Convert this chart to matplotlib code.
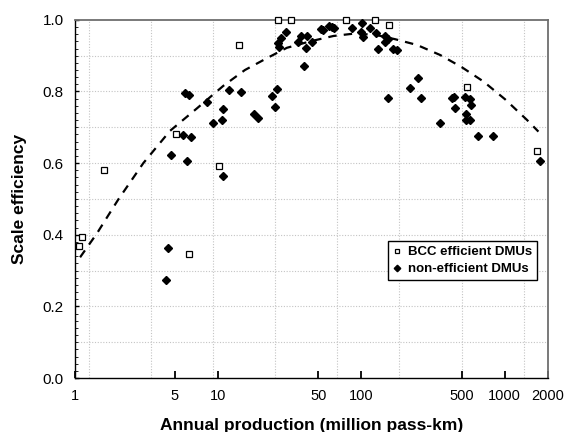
import numpy as np
import matplotlib
matplotlib.use('Agg')
import matplotlib.pyplot as plt
from matplotlib.ticker import FixedLocator, NullFormatter

plt.rcParams['font.family'] = ['Liberation Sans', 'DejaVu Sans']

# BCC efficient DMUs (open squares)
bcc_x = [1.078, 1.129, 1.597, 5.12, 6.32, 10.2, 14.1, 26.1, 32.2, 77.8, 124.6, 157, 549, 1690]
bcc_y = [0.368, 0.394, 0.581, 0.681, 0.347, 0.592, 0.929, 1.0, 1.0, 1.0, 1.0, 0.987, 0.812, 0.633]

# non-efficient DMUs (filled diamonds)
ne_x = [4.34, 4.49, 4.68, 5.73, 5.91, 6.08, 6.25, 6.45, 8.38, 9.28,
        10.7, 10.9, 10.9, 11.9, 14.5, 17.8, 18.9, 23.9, 25.0, 25.8,
        26.4, 26.6, 27.5, 29.7, 36.0, 37.8, 39.6, 41.1, 42.0, 45.1,
        52.1, 53.8, 59.8, 62.1, 64.2, 85.7, 99.0, 101.6, 103.2, 115.0,
        126.0, 131.4, 146.0, 152.9, 146.0, 153.6, 167.0, 178.0, 220, 250,
        262, 356, 430, 446, 449, 527, 573, 580, 535, 533,
        576, 652, 826, 1761]
ne_y = [0.273, 0.362, 0.623, 0.679, 0.797, 0.606, 0.790, 0.673, 0.770, 0.713,
        0.721, 0.751, 0.564, 0.805, 0.799, 0.737, 0.726, 0.787, 0.756, 0.807,
        0.935, 0.923, 0.950, 0.965, 0.938, 0.956, 0.872, 0.921, 0.956, 0.939,
        0.975, 0.972, 0.984, 0.979, 0.976, 0.976, 0.965, 0.991, 0.953, 0.976,
        0.963, 0.918, 0.955, 0.946, 0.939, 0.781, 0.918, 0.915, 0.809, 0.837,
        0.783, 0.713, 0.783, 0.786, 0.753, 0.786, 0.778, 0.761, 0.737, 0.721,
        0.721, 0.676, 0.676, 0.607]

# dashed trend curve
curve_x = [1.09, 1.43, 2.01, 3.01, 4.62, 7.08, 10.9, 15.4, 21.9, 30.2, 43.9,
           63.8, 90.4, 126, 172, 244, 354, 501, 710, 1007, 1426, 1718]
curve_y = [0.337, 0.404, 0.498, 0.600, 0.690, 0.752, 0.816, 0.860, 0.893, 0.922, 0.940,
           0.955, 0.962, 0.958, 0.946, 0.930, 0.902, 0.868, 0.828, 0.778, 0.721, 0.688]

x_ticks = [1, 5, 10, 50, 100, 500, 1000, 2000]
x_grid = [1.258, 3.41, 9.25, 25.1, 67.9, 184, 505, 1365]

fig = plt.figure(figsize=(5.66, 4.32), dpi=100)
ax = fig.add_axes([0.132, 0.125, 0.836, 0.829])

ax.set_xscale('log')
ax.set_xlim(1, 2000)
ax.set_ylim(0, 1.0)

# grid
for gx in x_grid:
    ax.axvline(gx, color='#c4c4c4', lw=0.8, ls=(0, (1, 1.5)), zorder=0)
for gy in np.arange(0.1, 1.0, 0.1):
    ax.axhline(gy, color='#c4c4c4', lw=0.8, ls=(0, (1, 1.5)), zorder=0)

ax.plot(curve_x, curve_y, color='black', lw=1.6, ls=(0, (3.8, 3.2)), zorder=2)

ax.plot(bcc_x, bcc_y, ls='none', marker='s', ms=4.5, mfc='white', mec='black',
        mew=0.9, clip_on=False, zorder=4, label='BCC efficient DMUs')
ax.plot(ne_x, ne_y, ls='none', marker='D', ms=4.4, mfc='black', mec='black',
        clip_on=False, zorder=3, label='non-efficient DMUs')

ax.xaxis.set_major_locator(FixedLocator(x_ticks))
ax.set_xticklabels([str(t) for t in x_ticks])
ax.xaxis.set_minor_locator(FixedLocator([]))
ax.xaxis.set_minor_formatter(NullFormatter())
ax.set_yticks([0.0, 0.2, 0.4, 0.6, 0.8, 1.0])
ax.set_yticklabels(['0.0', '0.2', '0.4', '0.6', '0.8', '1.0'])
ax.yaxis.set_minor_locator(FixedLocator(np.arange(0, 1.0, 0.02)))

ax.tick_params(axis='x', which='major', direction='in', length=5, width=1.3,
               labelsize=10.5, pad=8)
ax.tick_params(axis='y', which='major', direction='in', length=3, width=1,
               labelsize=11, pad=8)
ax.tick_params(axis='y', which='minor', direction='in', length=2.5, width=0.6)
ax.tick_params(top=False, right=False)

for s in ['left', 'bottom']:
    ax.spines[s].set_color('black')
    ax.spines[s].set_linewidth(1.0)
for s in ['top', 'right']:
    ax.spines[s].set_color('#6e6e6e')
    ax.spines[s].set_linewidth(1.3)

ax.set_xlabel('Annual production (million pass-km)', fontsize=12.5,
              fontweight='bold', labelpad=11)
ax.set_ylabel('Scale efficiency', fontsize=12.5, fontweight='bold', labelpad=11)

leg = ax.legend(loc='upper right', bbox_to_anchor=(0.977, 0.383),
                borderaxespad=0,
                prop={'size': 9.5, 'weight': 'bold'}, frameon=True,
                fancybox=False, edgecolor='black', framealpha=1,
                handlelength=0.6, handletextpad=0.5, borderpad=0.4,
                labelspacing=0.35, markerscale=0.75)
leg.get_frame().set_linewidth(1.0)

fig.savefig('out.png', dpi=100)
